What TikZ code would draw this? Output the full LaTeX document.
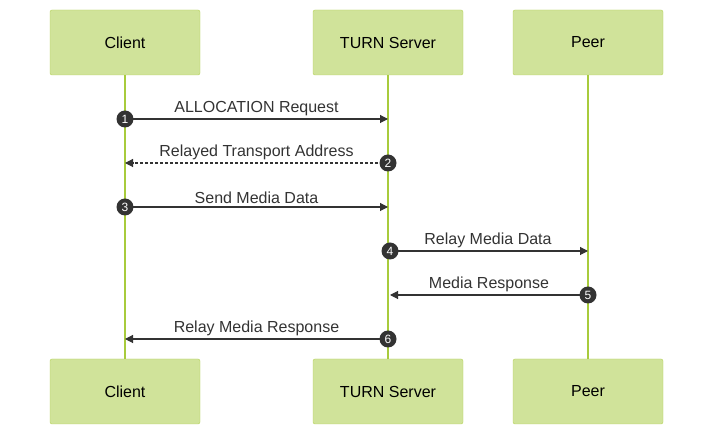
\documentclass[tikz,border=0pt]{standalone}
\usepackage{fontspec}
\setmainfont{Liberation Sans}
\usetikzlibrary{calc, arrows.meta}
\definecolor{boxfill}{HTML}{D0E39A}
\definecolor{boxline}{HTML}{B5D35A}
\definecolor{lifeline}{HTML}{A8CB3C}
\definecolor{ink}{HTML}{333333}

\begin{document}
\begin{tikzpicture}[x=1pt, y=-1pt,
	actor/.style = {draw = boxline, fill = boxfill, rounded corners = 2pt, minimum width = 150pt, minimum height = 65pt, font = \fontsize{16}{19}\selectfont, text = black},
	num/.style = {circle, fill = ink, text = white, inner sep = 0pt, minimum size = 17pt, font = \fontsize{12}{14}\selectfont},
	msg/.style = {draw = ink, line width = 1.1pt, -{Triangle[length=8pt, width=8pt]}},
	lbl/.style = {above, font = \fontsize{16}{19}\selectfont, text = ink, inner sep = 3pt}]
	\useasboundingbox (0,0) rectangle (713,435);

	% participants
	\node [actor] (ct) at (125,42.5) {Client};
	\node [actor] (tt) at (388,42.5) {TURN Server};
	\node [actor] (pt) at (588,42.5) {Peer};
	\node [actor] (cb) at (125,391.5) {Client};
	\node [actor] (tb) at (388,391.5) {TURN Server};
	\node [actor] (pb) at (588,391.5) {Peer};

	% lifelines
	\draw [lifeline, line width = 1.2pt] (ct) -- (cb);
	\draw [lifeline, line width = 1.2pt] (tt) -- (tb);
	\draw [lifeline, line width = 1.2pt] (pt) -- (pb);

	% messages
	\coordinate (c1) at (125,119); \coordinate (t1) at (388,119);
	\coordinate (c2) at (125,163); \coordinate (t2) at (388,163);
	\coordinate (c3) at (125,207); \coordinate (t3) at (388,207);
	\coordinate (t4) at (388,251); \coordinate (p4) at (588,251);
	\coordinate (t5) at (390,295); \coordinate (p5) at (588,295);
	\coordinate (c6) at (125,339); \coordinate (t6) at (388,339);

	\draw [msg] (c1) -- node [lbl] {ALLOCATION Request} (t1);
	\draw [msg, dashed, dash pattern = on 3pt off 2pt] (t2) -- node [lbl] {Relayed Transport Address} (c2);
	\draw [msg] (c3) -- node [lbl] {Send Media Data} (t3);
	\draw [msg] (t4) -- node [lbl] {Relay Media Data} (p4);
	\draw [msg] (p5) -- node [lbl] {Media Response} (t5);
	\draw [msg] (t6) -- node [lbl] {Relay Media Response} (c6);

	% step numbers
	\node [num] (n1) at (c1) {1};
	\node [num] (n2) at (t2) {2};
	\node [num] (n3) at (c3) {3};
	\node [num] (n4) at (390,251) {4};
	\node [num] (n5) at (p5) {5};
	\node [num] (n6) at (t6) {6};
\end{tikzpicture}
\end{document}
